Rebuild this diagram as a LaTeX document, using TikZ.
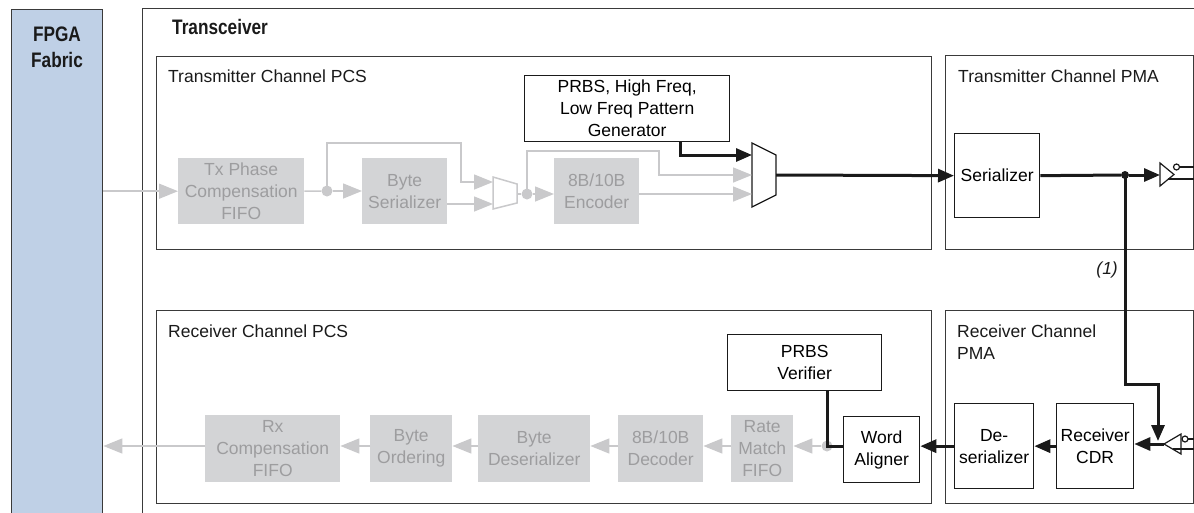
\documentclass[tikz,border=0pt]{standalone}
\usepackage{fontspec}
\setmainfont{Liberation Sans}
\newfontfamily\condfont[FakeStretch=0.82]{Liberation Sans}
\usetikzlibrary{arrows.meta}
\definecolor{fpgablue}{HTML}{BFD0E6}
\definecolor{gfill}{HTML}{D3D4D6}
\definecolor{gtext}{HTML}{9D9D9F}
\definecolor{glinec}{HTML}{C9C9CB}
\definecolor{framec}{HTML}{3A3A3A}
\definecolor{inkc}{HTML}{1A1A1A}
\begin{document}
\begin{tikzpicture}[x=1pt,y=-1pt,
  every node/.style={font=\fontsize{17.5}{22}\selectfont, inner sep=0pt, align=center},
  bbox/.style={draw=inkc, line width=1.3pt, fill=white, anchor=north west},
  gbox/.style={fill=gfill, text=gtext, anchor=north west},
  cont/.style={draw=framec, line width=1.4pt, anchor=north west},
  gline/.style={draw=glinec, line width=1.5pt},
  garrow/.style={gline, -{Triangle[length=19pt,width=15pt]}},
  bline/.style={draw=inkc, line width=3pt},
  barrow/.style={bline, -{Triangle[length=16pt,width=13pt]}},
  gdot/.style={circle, fill=glinec, minimum size=11pt},
  bdot/.style={circle, fill=inkc, minimum size=8pt},
  heading/.style={font=\condfont\bfseries\fontsize{21}{26}\selectfont, text=inkc},
  label/.style={anchor=base west, text=inkc}
]
\useasboundingbox (0,0) rectangle (1194,512);
\clip (0,0) rectangle (1194,512);

% containers
\node[cont, fill=fpgablue, minimum width=91pt, minimum height=530pt] (fpga) at (11,9) {};
\node[heading, anchor=north] (fpgalbl) at (57,27) {FPGA\\Fabric};
\node[cont, minimum width=1068pt, minimum height=530pt] (trx) at (142,8) {};
\node[heading, anchor=base west] (trxlbl) at (172,34) {Transceiver};

\node[cont, minimum width=775pt, minimum height=193pt] (txpcs) at (156,56) {};
\node[cont, minimum width=248pt, minimum height=194pt] (txpma) at (945,55) {};
\node[cont, minimum width=775pt, minimum height=193pt] (rxpcs) at (156,310) {};
\node[cont, minimum width=248pt, minimum height=193pt] (rxpma) at (945,310) {};

\node[label] (txpcslbl) at (168,82) {Transmitter Channel PCS};
\node[label] (txpmalbl) at (958,82) {Transmitter Channel PMA};
\node[label] (rxpcslbl) at (168,337) {Receiver Channel PCS};
\node[label, align=left] (rxpmalbl) at (957,337) {Receiver Channel};
\node[label] (rxpmalbl2) at (957,359) {PMA};

% TX gray blocks
\node[gbox, minimum width=126pt, minimum height=66pt] (txfifo) at (178,158) {Tx Phase\\Compensation\\FIFO};
\node[gbox, minimum width=85pt, minimum height=66pt] (byteser) at (362,158) {Byte\\Serializer};
\node[gbox, minimum width=85pt, minimum height=66pt] (enc) at (554,158) {8B/10B\\Encoder};

% TX black blocks
\node[bbox, minimum width=205pt, minimum height=66pt] (gen) at (524,75) {PRBS, High Freq,\\Low Freq Pattern\\Generator};
\node[bbox, minimum width=85pt, minimum height=84pt] (ser) at (954,133) {Serializer};

% RX gray blocks
\node[gbox, minimum width=135pt, minimum height=67pt] (rxfifo) at (205,415) {Rx\\Compensation\\FIFO};
\node[gbox, minimum width=82pt, minimum height=67pt] (byteord) at (370,415) {Byte\\Ordering};
\node[gbox, minimum width=112pt, minimum height=67pt] (bytedeser) at (478,415) {Byte\\Deserializer};
\node[gbox, minimum width=85pt, minimum height=67pt] (dec) at (618,415) {8B/10B\\Decoder};
\node[gbox, minimum width=62pt, minimum height=67pt] (rmfifo) at (731,415) {Rate\\Match\\FIFO};

% RX black blocks
\node[bbox, minimum width=154pt, minimum height=56pt] (verif) at (727,334) {PRBS\\Verifier};
\node[bbox, minimum width=76pt, minimum height=66pt] (aligner) at (843,416) {Word\\Aligner};
\node[bbox, minimum width=79pt, minimum height=85pt] (deser) at (954,403) {De-\\serializer};
\node[bbox, minimum width=77pt, minimum height=85pt] (cdr) at (1056,403) {Receiver\\CDR};

% multiplexers
\coordinate (m1a) at (493,177); \coordinate (m1b) at (517,184);
\coordinate (m1c) at (517,203); \coordinate (m1d) at (493,209);
\coordinate (m1in1) at (493,182); \coordinate (m1in2) at (493,204);
\coordinate (m1out) at (517,194);
\draw[gline, fill=white] (m1a) -- (m1b) -- (m1c) -- (m1d) -- cycle;

\coordinate (m2a) at (752,143); \coordinate (m2b) at (776,155);
\coordinate (m2c) at (776,195); \coordinate (m2d) at (752,207);
\coordinate (m2in1) at (752,155); \coordinate (m2in2) at (752,175);
\coordinate (m2in3) at (752,194); \coordinate (m2out) at (776,175);
\draw[draw=inkc, line width=1.3pt, fill=white] (m2a) -- (m2b) -- (m2c) -- (m2d) -- cycle;

% dots
\node[gdot] (d1) at (327,191) {};
\node[gdot] (d2) at (527,194) {};
\node[bdot] (d3) at (1125,175) {};
\node[gdot] (d4) at (827,446) {};

% TX gray connectors
\draw[garrow] (fpga.east |- txfifo.west) -- (txfifo.west);
\draw[gline] (txfifo.east) -- (d1);
\draw[garrow] (d1) -- (byteser.west |- d1);
\draw[garrow] (d1.center) |- (461,143) |- (m1in1);
\draw[garrow] (byteser.east |- m1in2) -- (m1in2);
\draw[gline] (m1out) -- (d2);
\draw[garrow] (d2) -- (enc.west |- d2);
\draw[garrow] (d2.center) |- (659,151) |- (m2in2);
\draw[garrow] (enc.east |- m2in3) -- (m2in3);

% TX black connectors
\draw[barrow] ([xshift=53.5pt]gen.south) |- (m2in1);
\draw[barrow] (m2out) -- (ser.west);
\draw[bline] (ser.east) -- (d3);
\coordinate (tb1) at (1160,163); \coordinate (tb2) at (1160,186);
\coordinate (tbtip) at (1174,174.5); \coordinate (tbin) at (1160,175);
\draw[barrow] (d3) -- (tbin);
\draw[draw=inkc, line width=1.2pt, fill=white] (tb1) -- (tbtip) -- (tb2) -- cycle;
\draw[draw=inkc, line width=1.2pt, fill=white] (1176.5,167) circle (3pt);
\draw[draw=inkc, line width=2pt] (1179.5,167) -- (1200,167);
\draw[draw=inkc, line width=2pt] (1167.5,179) -- (1200,179);

% loopback
\draw[barrow] (d3.center) |- (1158,384) -- (1158,441);
\node[font=\itshape\fontsize{17.5}{22}\selectfont, anchor=east, text=inkc] (note) at (1118,270) {(1)};

% RX buffer
\coordinate (rb1) at (1181,434); \coordinate (rb2) at (1181,454);
\coordinate (rbtip) at (1164,444);
\draw[barrow] (rbtip) -- (rbtip -| cdr.east);
\draw[draw=inkc, line width=1.2pt, fill=white] (rb1) -- (rbtip) -- (rb2) -- cycle;
\draw[draw=inkc, line width=1.2pt, fill=white] (1185,439) circle (3pt);
\draw[draw=inkc, line width=2pt] (1188,439) -- (1200,439);
\draw[draw=inkc, line width=2pt] (1172.5,449) -- (1200,449);

% RX black connectors
\draw[barrow] (cdr.west) -- (deser.east);
\draw[barrow] (deser.west) -- (deser.west -| aligner.east);
\draw[bline] (aligner.west |- d4) -| (d4 |- verif.south);

% RX gray connectors
\coordinate (ry) at (0,446);
\draw[garrow] (d4) -- (rmfifo.east |- ry);
\draw[garrow] (rmfifo.west |- ry) -- (dec.east |- ry);
\draw[garrow] (dec.west |- ry) -- (bytedeser.east |- ry);
\draw[garrow] (bytedeser.west |- ry) -- (byteord.east |- ry);
\draw[garrow] (byteord.west |- ry) -- (rxfifo.east |- ry);
\draw[garrow] (rxfifo.west |- ry) -- (fpga.east |- ry);
\end{tikzpicture}
\end{document}
